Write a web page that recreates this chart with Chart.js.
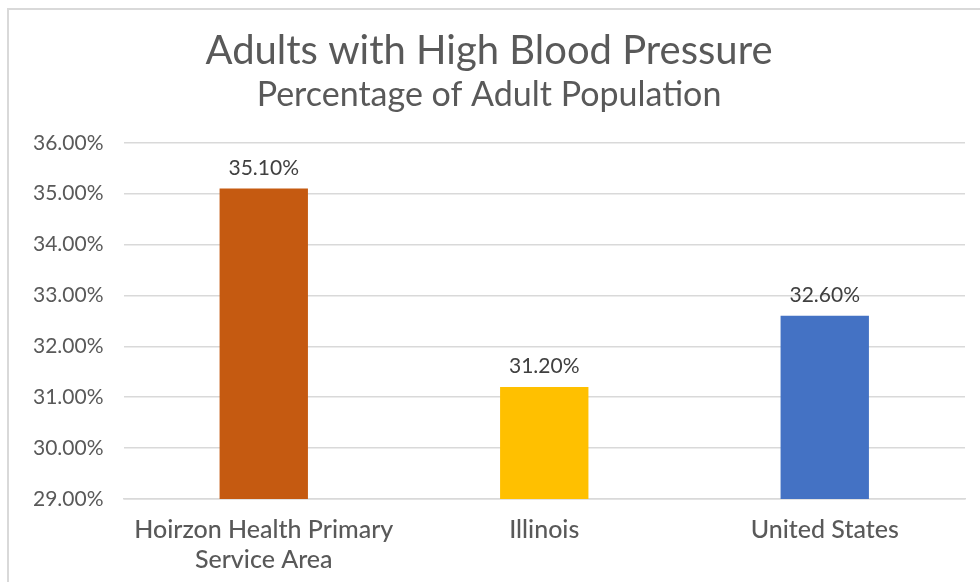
<!DOCTYPE html>
<html>
<head>
<meta charset="utf-8">
<script src="https://cdn.jsdelivr.net/npm/chart.js@4"></script>
<style>
  body { margin: 0; background: #fff; overflow: hidden; }
  .frame { position: absolute; left: 7px; top: 8px; width: 990px; height: 600px; border: 2px solid #d9d9d9; }
  .wrap { position: absolute; left: 0; top: 0; width: 980px; height: 582px; }
</style>
</head>
<body>
<div class="frame"></div>
<div class="wrap"><canvas id="barChart"></canvas></div>
<script>
// data
var categories = [["Hoirzon Health Primary", "Service Area"], "Illinois", "United States"];
var values = [35.10, 31.20, 32.60];
var barColors = ['#C55A11', '#FFC000', '#4472C4'];

var yMin = 29;
var yMax = 36;

// 막대 위 값 표시
var valueLabels = {
    id: 'valueLabels',
    afterDatasetsDraw: function (chart) {
        var ctx = chart.ctx;
        var meta = chart.getDatasetMeta(0);
        ctx.save();
        ctx.font = '21px Lato';
        ctx.fillStyle = '#404040';
        ctx.textAlign = 'center';
        ctx.textBaseline = 'bottom';
        for (var i = 0; i < meta.data.length; i++) {
            var bar = meta.data[i];
            ctx.fillText(values[i].toFixed(2) + '%', bar.x, bar.y - 10);
        }
        ctx.restore();
    }
};

const bar = document.getElementById('barChart');

new Chart(bar, {
    type: 'bar',
    data: {
        labels: categories,
        datasets: [{
            data: values,
            backgroundColor: barColors,
            categoryPercentage: 1,
            barPercentage: 0.315
        }]
    },
    plugins: [valueLabels],
    options: {
        responsive: true,
        maintainAspectRatio: false,
        animation: false,
        layout: {
            padding: { left: 13, right: 15, top: 27, bottom: -9 }
        },
        plugins: {
            legend: { display: false },
            tooltip: { enabled: false },
            title: {
                display: true,
                text: 'Adults with High Blood Pressure',
                color: '#595959',
                font: { family: 'Lato', size: 40, weight: 'normal' },
                padding: { top: 0, bottom: 0 }
            },
            subtitle: {
                display: true,
                text: 'Percentage of Adult Population',
                color: '#595959',
                font: { family: 'Lato', size: 34, weight: 'normal' },
                padding: { top: 0, bottom: 27 }
            }
        },
        scales: {
            y: {
                min: yMin,
                max: yMax,
                ticks: {
                    stepSize: 1,
                    color: '#595959',
                    font: { family: 'Lato', size: 21 },
                    padding: 20,
                    callback: function (v) { return v.toFixed(2) + '%'; }
                },
                grid: { color: '#d9d9d9', lineWidth: 1.5, drawTicks: false },
                border: { display: false }
            },
            x: {
                ticks: {
                    color: '#595959',
                    font: { family: 'Lato', size: 25, weight: '500' },
                    padding: 16,
                    maxRotation: 0
                },
                grid: { display: false, drawTicks: false },
                border: { color: '#d9d9d9', width: 1.5 }
            }
        }
    }
});
</script>
</body>
</html>
